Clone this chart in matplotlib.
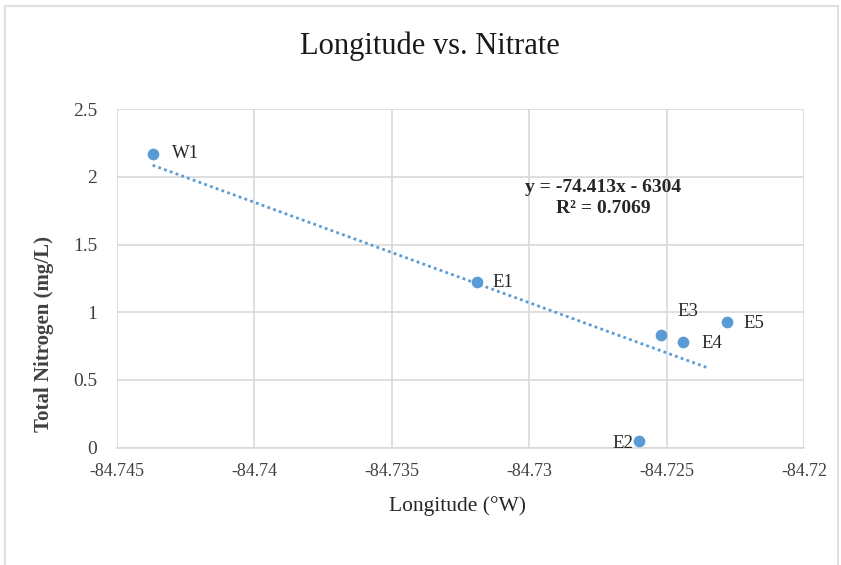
import matplotlib
matplotlib.use("Agg")
import matplotlib.pyplot as plt
import numpy as np
from matplotlib.lines import Line2D

# sites, longitude (deg W as negative) and total nitrogen (mg/L)
sites = ["W1", "E1", "E2", "E3", "E4", "E5"]
longitude = [-84.7437, -84.7319, -84.7260, -84.7252, -84.7244, -84.7228]
nitrogen = [2.17, 1.22, 0.05, 0.83, 0.78, 0.93]
equation_text = "y = -74.413x - 6304\nR\u00b2 = 0.7069"

x_ticks = [-84.745, -84.74, -84.735, -84.73, -84.725, -84.72]
x_tick_labels = ["-84.745", "-84.74", "-84.735", "-84.73", "-84.725", "-84.72"]
y_ticks = [0, 0.5, 1, 1.5, 2, 2.5]
y_tick_labels = ["0", "0.5", "1", "1.5", "2", "2.5"]

blue = "#5B9BD5"
grid_col = "#D9D9D9"
serif = ["Liberation Serif", "DejaVu Serif"]

fig = plt.figure(figsize=(8.41, 5.65), dpi=100)
ax = fig.add_axes([0.139, 0.2076, 0.817, 0.5994])

# outer chart border (top, left, right)
fig.add_artist(Line2D([0.006, 0.996], [0.989, 0.989], color="#E0E0E0", lw=1.5, transform=fig.transFigure))
fig.add_artist(Line2D([0.006, 0.006], [0.0, 0.989], color="#E0E0E0", lw=1.5, transform=fig.transFigure))
fig.add_artist(Line2D([0.996, 0.996], [0.0, 0.989], color="#E0E0E0", lw=1.5, transform=fig.transFigure))

ax.scatter(longitude, nitrogen, s=55, color=blue, zorder=3)

# linear trendline
coef = np.polyfit(longitude, nitrogen, 1)
xs = np.array([min(longitude), max(longitude) - 0.0007])
ax.plot(xs, np.polyval(coef, xs), linestyle=(0, (1, 1.2)), color=blue, lw=2, zorder=2)

# data labels
offsets = {"W1": (14, 0, "left"), "E1": (11, 0, "left"), "E2": (-4, -2, "right"),
           "E3": (12, 17, "left"), "E4": (13, -1, "left"), "E5": (12, -1, "left")}
for name, x, y in zip(sites, longitude, nitrogen):
    dx, dy, ha = offsets[name]
    ax.annotate(name, (x, y), xytext=(dx, dy), textcoords="offset points",
                ha=ha, va="center", fontsize=13.5, family=serif, color="#262626")

ax.text(-84.7273, 1.985, equation_text, ha="center", va="top", fontsize=14,
        fontweight="bold", family=serif, color="#262626", linespacing=1.3,
        multialignment="center")

ax.set_xlim(-84.745, -84.72)
ax.set_ylim(0, 2.5)
ax.set_xticks(x_ticks)
ax.set_xticklabels(x_tick_labels)
ax.set_yticks(y_ticks)
ax.set_yticklabels(y_tick_labels)
ax.tick_params(axis="x", length=0, labelsize=13, colors="#404040", pad=11)
ax.tick_params(axis="y", length=0, labelsize=14, colors="#404040", pad=14)
for lab in ax.get_xticklabels() + ax.get_yticklabels():
    lab.set_family(serif)

ax.grid(True, color=grid_col, lw=1.2)
ax.set_axisbelow(True)
for side in ["top", "right", "left"]:
    ax.spines[side].set_visible(False)
ax.spines["bottom"].set_color(grid_col)
ax.spines["bottom"].set_linewidth(1.2)

ax.set_xlabel("Longitude (\u00b0W)", fontsize=15.5, family=serif, color="#262626")
ax.xaxis.set_label_coords(0.495, -0.143)
ax.set_ylabel("Total Nitrogen (mg/L)", fontsize=15, fontweight="bold", family=serif,
              color="#404040")
ax.yaxis.set_label_coords(-0.092, 0.336)
fig.text(0.511, 0.918, "Longitude vs. Nitrate", ha="center", va="center",
         fontsize=22, family=serif, color="#1a1a1a")

fig.savefig("out.png", dpi=100, facecolor="white")
